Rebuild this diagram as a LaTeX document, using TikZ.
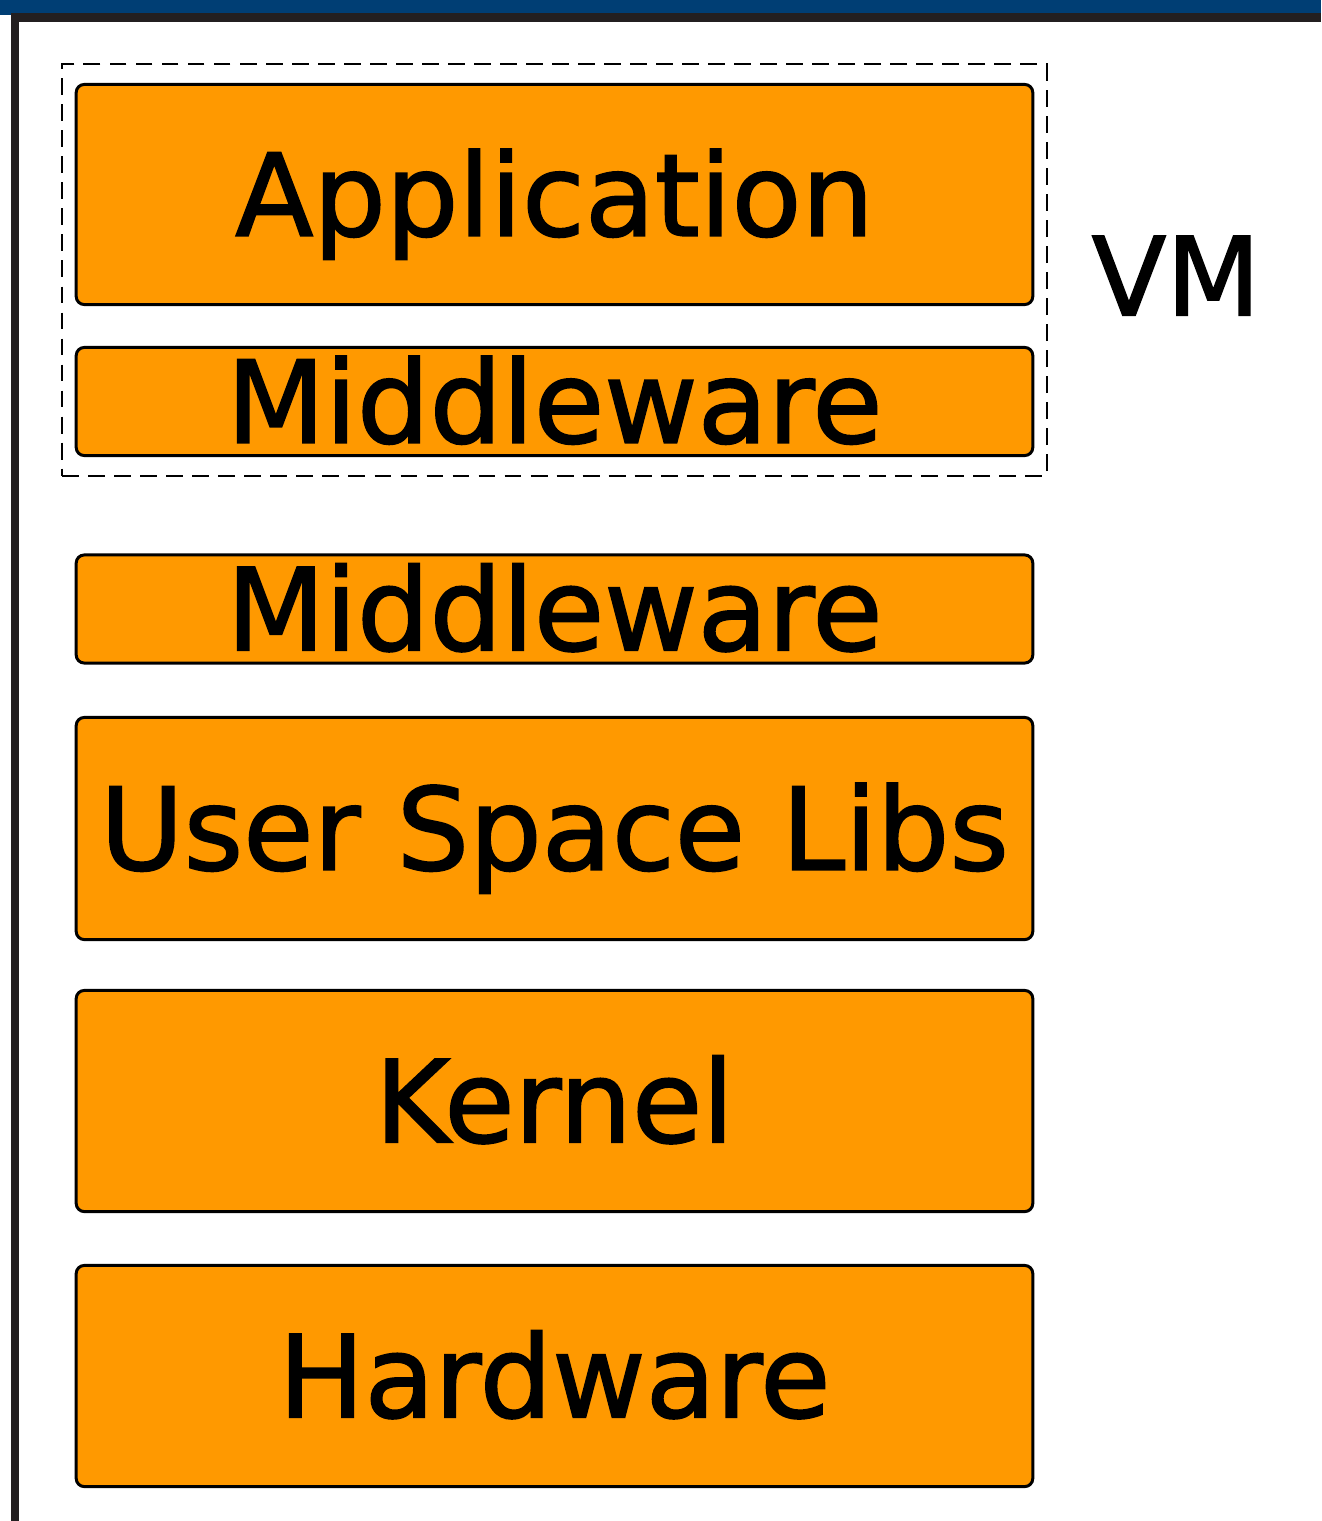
\documentclass[tikz,border=0pt]{standalone}
\usepackage{fontspec}
\setmainfont{DejaVu Sans}[RawFeature={embolden=1.5}]
\usetikzlibrary{positioning,fit}
\definecolor{barblue}{HTML}{003E74}
\definecolor{bardark}{HTML}{231F20}
\definecolor{layerorange}{HTML}{FF9900}

\begin{document}
\begin{tikzpicture}[x=0.01cm,y=-0.01cm,
	layer/.style={draw=black,line width=0.85pt,fill=layerorange,rounded corners=0.08cm,
		inner sep=0pt,minimum width=9.56cm,text height=23.5pt,text depth=0pt,
		font=\fontsize{32.5}{38}\selectfont},
	vmframe/.style={draw=black,line width=0.55pt,dash pattern=on 4.8pt off 2.6pt,
		inner xsep=0.125cm,inner ysep=0.185cm}
	]
	\useasboundingbox (0,0) rectangle (1321,1521);
	% slide frame
	\fill[barblue] (0,0) rectangle (1321,15);
	\fill[bardark] (11,13) rectangle (1321,22);
	\fill[bardark] (11,13) rectangle (19,1521);
	% software stack
	\node[layer,minimum height=2.2cm] (app) at (554.5,194.5) {Application};
	\node[layer,minimum height=1.08cm] (mwvm) at (554.5,401.5) {Middleware};
	\node[layer,minimum height=1.08cm] (mw) at (554.5,609) {Middleware};
	\node[layer,minimum height=2.22cm] (libs) at (554.5,828.5) {User Space Libs};
	\node[layer,minimum height=2.21cm] (kernel) at (554.5,1101) {Kernel};
	\node[layer,minimum height=2.21cm] (hw) at (554.5,1376) {Hardware};
	% virtual machine
	\node[vmframe,fit=(app)(mwvm)] (vm) {};
	\node[text height=22.4pt,text depth=0pt,inner sep=0pt,font=\fontsize{31}{36}\selectfont] (vmlabel) at (1176,276) {VM};
\end{tikzpicture}
\end{document}
